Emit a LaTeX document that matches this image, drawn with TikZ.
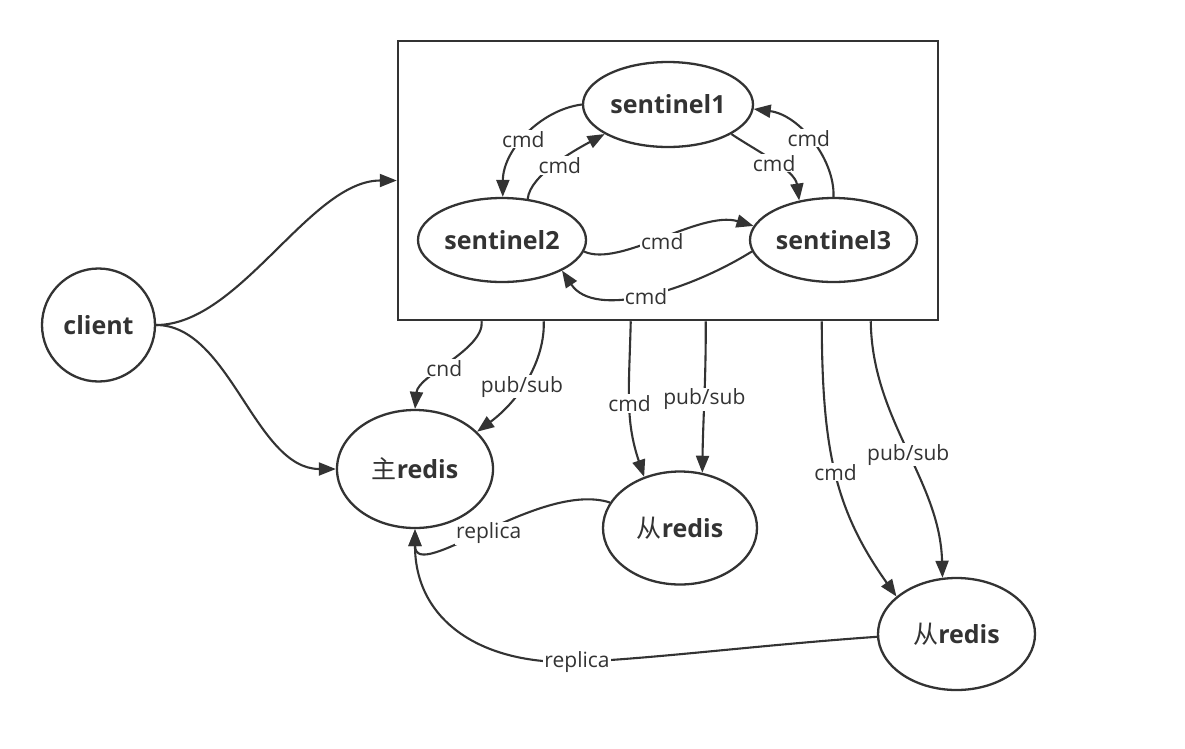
\documentclass[tikz,border=0pt]{standalone}
\usepackage{fontspec}
\setmainfont{Open Sans}
\newfontfamily\cjk{Noto Sans CJK SC}
\usetikzlibrary{shapes.geometric,arrows.meta,calc}
\definecolor{ink}{HTML}{333333}
\begin{document}
\begin{tikzpicture}[x=1pt,y=-1pt,
  every node/.style={text=ink},
  ell/.style={ellipse, draw=ink, line width=2.3pt, inner sep=0pt, font=\fontsize{25}{30}\selectfont\bfseries},
  conn/.style={draw=ink, line width=2.1pt, -{Triangle[length=17pt,width=13pt]}},
  lbl/.style={fill=white, inner sep=1pt, font=\fontsize{21}{25}\selectfont},
]
\useasboundingbox[fill=white] (0,0) rectangle (1185,748);
\node[draw=ink, line width=2.5pt, minimum width=540pt, minimum height=279pt, inner sep=0pt] (box) at (668,180.5) {};
\node[ell, minimum width=170pt, minimum height=85pt] (s1) at (668,104.5) {sentinel1};
\node[ell, minimum width=168pt, minimum height=84pt] (s2) at (502,240) {sentinel2};
\node[ell, minimum width=167pt, minimum height=84pt] (s3) at (833.5,240) {sentinel3};
\node[circle, draw=ink, line width=2.3pt, minimum size=113pt, inner sep=0pt, font=\fontsize{25}{30}\selectfont\bfseries] (client) at (98.5,325) {client};
\node[ell, minimum width=156pt, minimum height=118pt] (m) at (415,469) {{\cjk\mdseries 主}redis};
\node[ell, minimum width=154pt, minimum height=113pt] (r1) at (680,528) {{\cjk\mdseries 从}redis};
\node[ell, minimum width=157pt, minimum height=112pt] (r2) at (956.5,634) {{\cjk\mdseries 从}redis};

\draw[conn] (client.east) .. controls (240,325) and (310,180.5) .. (box.west);
\draw[conn] (client.east) .. controls (230,325) and (255,469) .. (m.west);

\draw[conn] (s1.180) .. controls (540,110) and (503,150) .. (s2.89) node[lbl,pos=0.54]{cmd};
\draw[conn] (s2.58) .. controls (530,175) and (575,150) .. (s1.205) node[lbl,pos=0.5,xshift=4pt,yshift=-2pt]{cmd};
\draw[conn] (s1.-25) .. controls (755,150) and (795,170) .. (s3.131) node[lbl,pos=0.52]{cmd};
\draw[conn] (s3.90) .. controls (835,160) and (800,115) .. (s1.-3) node[lbl,pos=0.53]{cmd};
\draw[conn] (s2.-8) .. controls (620,268) and (700,210) .. (s3.170) node[lbl,pos=0.5,yshift=-3pt]{cmd};
\draw[conn] (s3.188) .. controls (690,290) and (595,320) .. (s2.-27) node[lbl,pos=0.5,yshift=-3pt]{cmd};

\draw[conn] ([xshift=85pt]box.south west) .. controls (484,350) and (418,375) .. (m.90) node[lbl,pos=0.56]{cnd};
\draw[conn] ([xshift=147pt]box.south west) .. controls (545,360) and (520,400) .. (m.31) node[lbl,pos=0.57]{pub/sub};
\draw[conn] ([xshift=234pt]box.south west) .. controls (629,390) and (625,420) .. (r1.125) node[lbl,pos=0.5]{cmd};
\draw[conn] ([xshift=309pt]box.south west) .. controls (706,380) and (703,420) .. (r1.68) node[lbl,pos=0.5]{pub/sub};
\draw[conn] ([xshift=425pt]box.south west) .. controls (822,450) and (835,510) .. (r2.148) node[lbl,pos=0.49]{cmd};
\draw[conn] ([xshift=474pt]box.south west) .. controls (872,420) and (940,480) .. (r2.104) node[lbl,pos=0.52]{pub/sub};

\draw[conn] (r1.160) .. controls (540,480) and (415,585) .. (m.270) node[lbl,pos=0.49,yshift=-6pt]{replica};
\draw[conn] (r2.182) .. controls (760,645) and (660,658) .. (577,662) node[lbl]{replica} .. controls (480,665) and (415,620) .. (m.270);
\end{tikzpicture}
\end{document}
